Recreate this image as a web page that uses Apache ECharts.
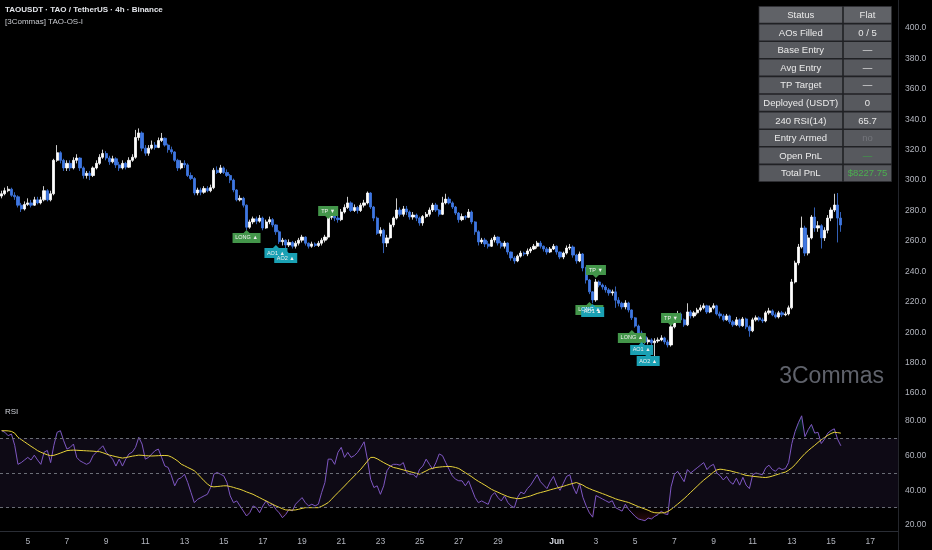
<!DOCTYPE html>
<html><head><meta charset="utf-8">
<script src="https://cdn.jsdelivr.net/npm/echarts@6/dist/echarts.min.js"></script>
<style>html,body{margin:0;padding:0;background:#000;}#c{width:932px;height:550px;}</style>
</head><body><div id="c"></div>
<script>
// ---- time axis ----
const startTimeUTC = Date.UTC(2025, 4, 3, 16); // first 4h bar
const barHours = 4;
const slotCount = 275;                          // bars incl. empty future space
const monthNames = ['Jan','Feb','Mar','Apr','May','Jun','Jul','Aug','Sep','Oct','Nov','Dec'];

// ---- price data (4h candles) ----
const firstOpen = 289.5;
const closes = [
291,293,294,290,289,283.5,281,284,285,283.5,
287,285,287,293,287,291,313,318,313,308,
311,308,313,314.5,308,303,304.5,303,308,311,
315,317.5,314.5,312,314,310,308,311,308.5,313,
315,328,331,321,317.7,321,323,321.5,326,327.5,
323,320,318.5,313,308,311,310,303,301,291.5,
293.5,292,294.5,293,295,306.5,305,308,305,303,
300,293.5,287,288,283.5,269,272.5,274.5,273,275,
268.5,272.5,274,270.5,266,259.5,260.5,257.3,259,256.5,
258.5,260.5,262.5,258.5,256.5,258,257,258.5,260.5,262.5,
275.5,278,275,274,279,282,285,280,282,280,
283.5,285,291.5,282.3,275,265,267,258.6,262,270.5,
275,280.3,277.5,281,279,275.7,277,275,271.8,276,
277.5,280.3,283.6,280.3,277.5,285,287.5,285,282.3,278.3,
274,276,275.5,279,272.5,266,259.3,260.6,258,256.5,
260.6,262.5,258.6,256.5,258.6,252.7,248.8,246.8,250,252,
251.4,253.4,254.7,256.5,258.6,256.5,254.7,252.7,254.7,256.5,
252.7,249.4,252,255.3,256,250.7,246.8,251.4,242.2,234.3,
226.5,221.2,233,231,229.7,227.8,225.8,226.5,221,219,
216.6,219.2,214.6,209.4,204,199.5,197,193.6,194.9,193,
194.2,194.9,196.2,193.6,191.6,203.5,209.4,212,208.1,204.8,
213.3,210.7,212.7,214.6,216,217.3,213.3,216,217.3,212,
210.7,208.1,210.7,206.8,204.8,208.1,204.2,208.7,203.5,200.9,
208.1,209.4,208.1,207.4,212.7,214,211.4,210,212.7,211.4,
212,216,233,245.5,256,268.5,252,262,275.7,268.5,
270,262,267,275,280.3,283.6,275,270.5];
const highs = [
293,295,296,295,292,290,285,286,288,287,
289,289,289,296,294,293,314,323,319,314,
313,313,315,317,315,309,306,306,309,313,
317,320,319,316,316,315,312,313,312,315,
317,333,334,332,323,323,326,325,328,331,
328,324,322,319,314,313,313,311,305,302,
295,295,296,296,297,308,309,310,309,307,
304,301,294,290,289,284,274,276,276,277,
276,274,276,275,271,267,262,261,261,260,
260,262,264,263,259,259.5,259,260,262,264,
277,280,279,277,281,284,289,286,284,283,
285,287,292.5,292,283,276,269,268,264,272,
276,288,282,283,283,280,279,278,276,277,
279,282,285,285,281,289,291,289,286,283,
279,278,277,281,280,273,267,262,262,260,
262,264,263,260,260,259,253,250,251,253.5,
253,255,256,258,260,260,257,256,256,258,
257,253,253,257,258,257,251.5,253,252,243,
235,227,235,234,232,231,229,228,230,223,
220,221,220,215,210,205,201,198,196.5,196,
196,196.5,198,197,195,205,211,214,213,209,
219,214.5,214,216,218,219,218,217.5,219,218,
213.5,212,212,211.5,208,210,209,210,209.5,204.5,
209.5,211,210.5,209.5,214,216,215,213,214,214,
213.5,217.5,235,247,258,276,270,264,277,282,
273,271,269,277,282,291,291.5,279];
const lows = [
288,290,292,289,287,282,279,280,283,282,
283,284,284,286,286,286,290,312,311,306,
306,306,307,311,306,301,301,300,302,307,
310,314,313,310,311,308,306,307,307,308,
312,314,326,319,316,316,320,320,321,325,
322,318,317,312,306,307,308,302,300,290,
290,290,291,292,292,294,304,304,304,302,
298,292,286,286,282,267,268,271,271,272,
267,268,271,269,264,258,257,255,256,255,
255,257,259,257,255,255.5,256,256,257,259,
261,274,273,272,273,278,281,279,279,278,
279,282,284,281,273,264,263,252,256,261,
269,274,276,276,277,274,274,273,270,270,
275,276,279,279,276,277,284,284,281,277,
272,273,274,275,271,264,257,258,256,255,
256,259,257,255,255,251,247,245,246,249,
250,250,252,254,255,255,253,251,252,254,
251,248,248,251,254,249,245,246,240,232,
225,219,220,229.5,228,226,224,224,216,217,
215,215,213,208,203,198,195.5,192,192,191,
184,193,194,192,190,190.5,202.5,208,207,203.5,
204,209,209.5,211.5,213.5,215,212,212.5,215,211,
209,207,207.5,205.5,203.5,204,203,203.5,202,197,
200,207,207,206,206.5,211.5,210.5,209,209,210,
210.5,211,215,232,244,255,250,250.5,261,266,
266,255,260,265,273,279,259,266];

// ---- RSI(14) and its moving average ----
const rsi = [
74.4,73.5,71.5,72.5,66,55,56,57.5,59,57.5,
60.3,57.5,55,62,63,56,66,73.5,74.4,68.6,
63.8,64.8,66.7,59,57,56,55,56,60,62,
63.8,65.7,62,60,58,54,58,54,58,61,
62,64.8,70.6,66.7,58,59,61,62.9,63.8,59,
54,53.2,48.4,42.6,46.4,47.3,49.3,44.5,38.7,32.9,
34.8,35.8,36.8,37.7,41.6,49.3,50.3,49.3,48.4,44.5,
36.8,32.9,33.9,31,28.1,25.2,27.1,31,30,27.1,
31,33.9,31,32,29,27,24.2,26.1,29,28.1,
32,33.9,35.8,32.9,31,32,31,32,38.7,44.5,
58,58,55,61.9,64.8,59,61.9,59,60,61.9,
64.8,68,58,46.4,41.6,42.6,37.7,42.6,51.3,54,
55,55,54.5,56,50.3,49.3,49.3,47.4,52.2,54,
58,55,52.2,56,61,60,56,52.2,48.4,46.4,
45.5,45.5,42.6,45.5,40.6,35.8,32.9,33.9,32.9,31.9,
36.8,38.7,35.8,33.9,36.8,33,31,30,36,39,
38,41,43,46,49,45,43,41,45,48,
43,40,44,48,49,42,38,44,36,31,
27,24.5,37,36,35,34,33,34,30,29,
28,32,29,27,25,23.5,23,22.5,24,23.5,
25,26,28,26.5,26,42,49,51,48,45,
52,50,51.5,53,54.5,56,52,54,55,50,
48.5,46,48,45,43.5,47,43,47.5,43,41,
49,50,49.5,49,53,54.5,52,51,53,52,
52.5,56,67,74,79,83,71,75,78,73,
73.5,67,69.5,73,74.5,75.5,69.5,65.7];
const rsiMA = [
74.4,74.4,74.3,74,73,70.6,69.3,68,66.7,65.4,
64.2,62.9,62,61.2,60.5,60,60.2,60.8,61.5,62.2,
62.9,63.1,63.2,63.1,63,62.9,62.8,62.7,62.6,62.4,
62.3,61.7,61,60.3,59.9,59.4,59,58.6,58.9,59.3,
59.7,60,60.3,60.2,60,59.9,59.8,59.9,60,60.1,
60.1,60,59.2,58.1,56.8,55.1,54.2,53.2,52.3,51.3,
49.5,47.5,45.5,43.7,42.3,42,42.2,42.4,42.6,42.6,
42.2,41.7,41.1,40.6,39.9,39.1,38.4,37.7,36.7,35.8,
34.8,33.9,32.9,31.9,31,30.2,29.4,28.7,28.6,28.6,
28.7,29.1,29.6,30,30,30,30,30,30.8,31.8,
32.9,34.8,36.8,38.7,40.6,42.5,44.5,46.4,48.3,50.2,
52.2,54.5,56.8,59,59,58.2,57.1,56,55,54.1,
53.2,52.8,52.3,51.8,51.3,50.8,50.3,49.8,49.3,50.3,
51.2,52.2,52.7,53.2,53.4,53.6,53.7,53.8,53.6,53.2,
52.6,51.4,50.2,49,47.8,46.4,45.2,44.1,43,41.8,
40.6,39.7,38.9,38,37.2,36.4,35.8,35.5,35.2,35.3,
35.8,36.3,36.8,37.5,38.2,38.7,39.2,39.7,40.3,40.8,
41.3,41.8,42.3,42.9,43.5,44,44.5,43.8,43,41.8,
41,40.2,39.5,38.8,38.1,37.4,36.6,35.9,35.1,34.5,
34,33.5,33,32.2,31.4,30.6,29.9,29.2,28.5,27.6,
27.1,27,27,27.1,27.8,29,30.5,32,33.6,35.2,
37,38.8,40.6,42.4,44.2,45.9,47.4,48.9,50.5,51.8,
52.2,52,51.6,51.3,50.8,50.3,49.8,49.2,48.6,48.4,
48.1,47.9,47.7,47.5,47.4,47.7,48.2,48.8,49.4,50,
50.5,51.6,53,54.8,57,59.2,61.2,62.9,64.5,66,
67.6,69.2,70.5,71.7,72.8,73.5,73.3,73];
const rsiLevels = [70, 50, 30];

// ---- axis ticks ----
const priceAxis = { min: 160, max: 400, step: 20 };
const rsiAxis = { min: 20, max: 80, step: 20 };

// ---- strategy signals: [bar index, price] ----
const longSignals = [[75, 267.2], [180, 219.9], [193, 201.5]];
const ao1Signals = [[84, 257.3], [181, 218.6], [196, 193.6]];
const ao2Signals = [[87, 254.0], [198, 186.3]];
const tpSignals = [[100, 274.4], [182, 235.6], [205, 204.0]];

// ---- status table ----
const tableLabels = ['Status','AOs Filled','Base Entry','Avg Entry','TP Target','Deployed (USDT)','240 RSI(14)','Entry Armed','Open PnL','Total PnL'];
const tableValues = ['Flat','0 / 5','\u2014','\u2014','\u2014','0','65.7','no','\u2014','$8227.75'];
const tableValueColors = ['#e8e8e8','#e8e8e8','#e8e8e8','#e8e8e8','#e8e8e8','#e8e8e8','#e8e8e8','#74767c','#3f9a48','#4caf50'];

// ================= build =================
const FONT = '"Liberation Sans", "DejaVu Sans", sans-serif';
const cats = [];
for (let i = 0; i < slotCount; i++) {
  const d = new Date(startTimeUTC + i * barHours * 3600e3);
  cats.push((d.getUTCMonth() + 1) + '-' + d.getUTCDate() + '-' + d.getUTCHours());
}
function parseCat(v) { const p = v.split('-').map(Number); return { m: p[0], d: p[1], h: p[2] }; }
function showLabel(idx, v) { const c = parseCat(v); return c.h === 0 && c.d % 2 === 1 && c.d !== 31; }

const candles = closes.map((c, i) => {
  const o = i === 0 ? firstOpen : closes[i - 1];
  return [o, c, lows[i], highs[i]];
});

function sig(name, data, text, color, w, up) {
  const path = up
    ? 'path://M0,3 L' + (w/2-3) + ',3 L' + (w/2) + ',0 L' + (w/2+3) + ',3 L' + w + ',3 L' + w + ',13 L0,13 Z'
    : 'path://M0,0 L' + w + ',0 L' + w + ',10 L' + (w/2+3) + ',10 L' + (w/2) + ',13 L' + (w/2-3) + ',10 L0,10 Z';
  return {
    name, type: 'scatter', xAxisIndex: 0, yAxisIndex: 0, data, silent: true, z: 5,
    symbol: path, symbolSize: [w, 13], symbolOffset: [0, up ? 6.5 : -6.5],
    itemStyle: { color, opacity: 1 },
    label: { show: true, position: 'inside', formatter: text, offset: [0, up ? 1.5 : -1.5],
      color: '#f0f0f0', fontSize: 5.5, fontFamily: FONT }
  };
}

const osBase = rsi.map(v => Math.min(v, 30));
const osFill = rsi.map(v => 30 - Math.min(v, 30));
const obBase = rsi.map(() => 70);
const obFill = rsi.map(v => Math.max(v, 70) - 70);

// RSI pane pixel geometry (for gradient fills)
const rsiTop = 421, rsiH = 104;
const rsiY = v => rsiTop + (rsiAxis.max - v) / (rsiAxis.max - rsiAxis.min) * rsiH;

// table graphics
const tX0 = 758.5, tX1 = 843, tX2 = 892, tY0 = 6, rowH = 17.6;
const tableEls = [{ type: 'rect', shape: { x: tX0, y: tY0, width: tX2 - tX0, height: rowH * tableLabels.length }, style: { fill: '#202124' } }];
tableLabels.forEach((lab, r) => {
  const y = tY0 + r * rowH;
  const bg = r === 0 ? '#606267' : '#57595e';
  tableEls.push({ type: 'rect', shape: { x: tX0 + 0.8, y: y + 0.8, width: tX1 - tX0 - 1.6, height: rowH - 1.6 }, style: { fill: bg } });
  tableEls.push({ type: 'rect', shape: { x: tX1 + 0.8, y: y + 0.8, width: tX2 - tX1 - 1.6, height: rowH - 1.6 }, style: { fill: bg } });
  tableEls.push({ type: 'text', x: (tX0 + tX1) / 2, y: y + rowH / 2 + 0.5,
    style: { text: lab, fill: '#ebebeb', font: '9.5px ' + FONT, align: 'center', verticalAlign: 'middle', textAlign: 'center', textVerticalAlign: 'middle' } });
  tableEls.push({ type: 'text', x: (tX1 + tX2) / 2, y: y + rowH / 2 + 0.5,
    style: { text: tableValues[r], fill: tableValueColors[r], font: '9.5px ' + FONT, align: 'center', verticalAlign: 'middle', textAlign: 'center', textVerticalAlign: 'middle' } });
});

function txt(x, y, text, font, fill, align) {
  return { type: 'text', x, y, style: { text, font, fill, align: align || 'left', verticalAlign: 'middle', textAlign: align || 'left', textVerticalAlign: 'middle' } };
}

const chart = echarts.init(document.getElementById('c'), null, { renderer: 'canvas' });
chart.setOption({
  backgroundColor: '#000000',
  animation: false,
  grid: [
    { left: 0, right: 34, top: 28, height: 365 },
    { left: 0, right: 34, top: rsiTop, height: rsiH }
  ],
  xAxis: [
    { type: 'category', gridIndex: 0, data: cats, axisLine: { show: false }, axisTick: { show: false }, axisLabel: { show: false }, splitLine: { show: false } },
    { type: 'category', gridIndex: 1, data: cats, offset: 6,
      axisLine: { show: true, lineStyle: { color: '#2a2d35', width: 1 } }, axisTick: { show: false }, splitLine: { show: false },
      axisLabel: { interval: showLabel, margin: 6, color: '#b2b5be', fontSize: 8.5, fontFamily: FONT,
        formatter: v => { const c = parseCat(v); return c.d === 1 ? '{m|' + monthNames[c.m - 1] + '}' : String(c.d); },
        rich: { m: { color: '#d1d4dc', fontSize: 8.5, fontWeight: 'bold', fontFamily: FONT } } } }
  ],
  yAxis: [
    { type: 'value', gridIndex: 0, position: 'right', min: priceAxis.min, max: priceAxis.max, interval: priceAxis.step,
      axisLine: { show: false }, axisTick: { show: false }, splitLine: { show: false },
      axisLabel: { formatter: v => v.toFixed(1), color: '#b2b5be', fontSize: 8.5, fontFamily: FONT, margin: 7 } },
    { type: 'value', gridIndex: 1, position: 'right', min: rsiAxis.min, max: rsiAxis.max, interval: rsiAxis.step,
      axisLine: { show: false }, axisTick: { show: false }, splitLine: { show: false },
      axisLabel: { formatter: v => v.toFixed(2), color: '#b2b5be', fontSize: 8.5, fontFamily: FONT, margin: 7 } }
  ],
  series: [
    { name: 'TAOUSDT', type: 'candlestick', xAxisIndex: 0, yAxisIndex: 0, data: candles, barWidth: 2.7, silent: true,
      itemStyle: { color: '#ffffff', color0: '#3f77e2', borderColor: '#ffffff', borderColor0: '#3f77e2', borderWidth: 0.8 } },
    sig('LONG', longSignals, 'LONG \u25B2', '#43964a', 28, true),
    sig('AO1', ao1Signals, 'AO1 \u25B2', '#1aa1b4', 23, true),
    sig('AO2', ao2Signals, 'AO2 \u25B2', '#1aa1b4', 23, true),
    sig('TP', tpSignals, 'TP \u25BC', '#43964a', 20, false),
    { name: 'osBase', type: 'line', xAxisIndex: 1, yAxisIndex: 1, data: osBase, stack: 'os', symbol: 'none', silent: true, clip: false,
      lineStyle: { width: 0, opacity: 0 } },
    { name: 'osFill', type: 'line', xAxisIndex: 1, yAxisIndex: 1, data: osFill, stack: 'os', symbol: 'none', silent: true, clip: false,
      lineStyle: { width: 0, opacity: 0 },
      areaStyle: { color: new echarts.graphic.LinearGradient(0, rsiY(30), 0, rsiY(0), [
        { offset: 0, color: 'rgba(242,54,69,0)' }, { offset: 1, color: 'rgba(242,54,69,1)' }], true) } },
    { name: 'obBase', type: 'line', xAxisIndex: 1, yAxisIndex: 1, data: obBase, stack: 'ob', symbol: 'none', silent: true, clip: false,
      lineStyle: { width: 0, opacity: 0 } },
    { name: 'obFill', type: 'line', xAxisIndex: 1, yAxisIndex: 1, data: obFill, stack: 'ob', symbol: 'none', silent: true, clip: false,
      lineStyle: { width: 0, opacity: 0 },
      areaStyle: { color: new echarts.graphic.LinearGradient(0, rsiY(70), 0, rsiY(100), [
        { offset: 0, color: 'rgba(8,153,129,0)' }, { offset: 1, color: 'rgba(8,153,129,1)' }], true) } },
    { name: 'RSI', type: 'line', xAxisIndex: 1, yAxisIndex: 1, data: rsi, symbol: 'none', silent: true, clip: false,
      lineStyle: { color: '#7e57c2', width: 1 },
      markArea: { silent: true, itemStyle: { color: 'rgba(126,87,194,0.11)' }, data: [[{ yAxis: rsiLevels[0] }, { yAxis: rsiLevels[2] }]] },
      markLine: { silent: true, symbol: 'none', label: { show: false },
        lineStyle: { color: '#6a6d76', type: [3, 3], width: 1 },
        data: rsiLevels.map(v => ({ yAxis: v })) } },
    { name: 'RSI MA', type: 'line', xAxisIndex: 1, yAxisIndex: 1, data: rsiMA, symbol: 'none', silent: true, clip: false,
      lineStyle: { color: '#e8d33a', width: 1 } }
  ],
  graphic: [
    { type: 'line', shape: { x1: 898.5, y1: 0, x2: 898.5, y2: 550 }, style: { stroke: '#24262c', lineWidth: 1 } },
    txt(5, 10, 'TAOUSDT \u00B7 TAO / TetherUS \u00B7 4h \u00B7 Binance', 'bold 8px ' + FONT, '#e3e5ea'),
    txt(5, 22, '[3Commas] TAO-OS-I', '8px ' + FONT, '#c9cbd0'),
    txt(5, 412, 'RSI', '8px ' + FONT, '#d1d4dc'),
    txt(884, 377, '3Commas', '23px ' + FONT, '#5f626b', 'right')
  ].concat(tableEls)
});
</script>
</body></html>
